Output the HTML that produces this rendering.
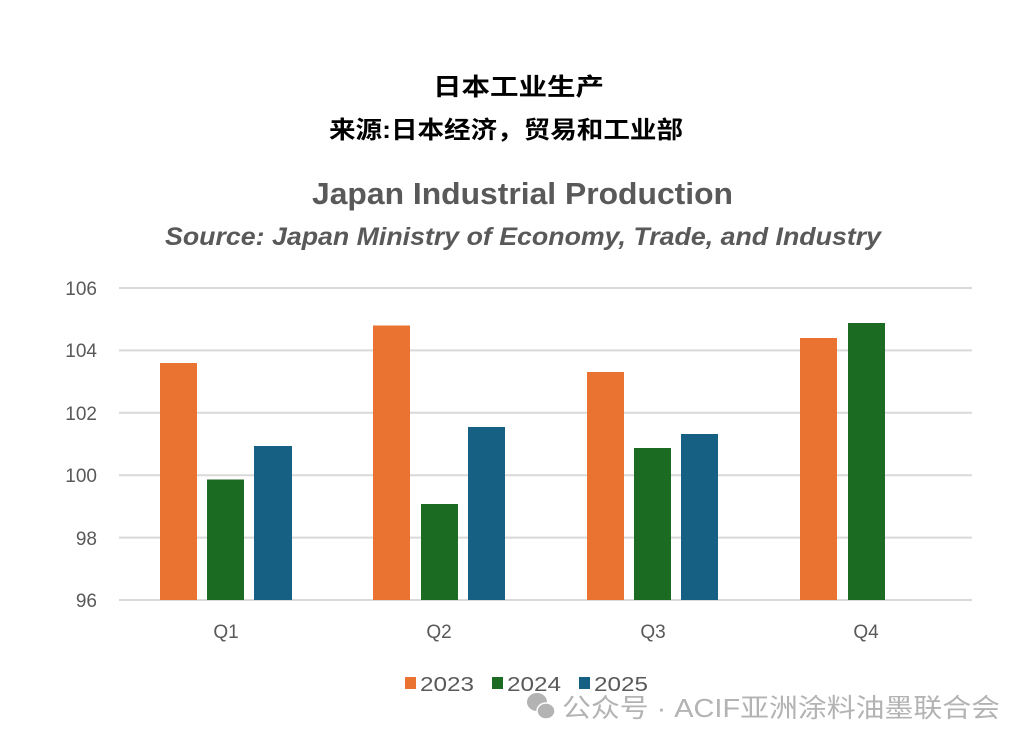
<!DOCTYPE html>
<html><head><meta charset="utf-8"><style>
body{margin:0;width:1034px;height:748px;background:#fff;overflow:hidden}
</style></head><body>
<svg width="1034" height="748" xmlns="http://www.w3.org/2000/svg" style="position:absolute;left:0;top:0">
<g font-family="'Liberation Sans','Noto Sans CJK SC',sans-serif">
<text x="433" y="95" font-size="24" font-weight="bold" fill="#000" textLength="171" lengthAdjust="spacingAndGlyphs">日本工业生产</text>
<text x="329" y="138" font-size="24" font-weight="bold" fill="#000" textLength="354" lengthAdjust="spacingAndGlyphs">来源:日本经济，贸易和工业部</text>
<text x="312" y="204" font-size="31" font-weight="bold" fill="#595959" textLength="421" lengthAdjust="spacingAndGlyphs">Japan Industrial Production</text>
<text x="165" y="245" font-size="25" font-weight="bold" font-style="italic" fill="#595959" textLength="716" lengthAdjust="spacingAndGlyphs">Source:  Japan Ministry of Economy, Trade, and Industry</text>
</g>
<g stroke="#d9d9d9" stroke-width="2">
<line x1="119" x2="972" y1="288" y2="288"/><line x1="119" x2="972" y1="350.4" y2="350.4"/>
<line x1="119" x2="972" y1="412.8" y2="412.8"/><line x1="119" x2="972" y1="475.2" y2="475.2"/>
<line x1="119" x2="972" y1="537.6" y2="537.6"/><line x1="119" x2="972" y1="600" y2="600"/>
</g>
<g font-family="'Liberation Sans',sans-serif" font-size="19" fill="#595959" text-anchor="end">
<text x="97" y="295">106</text><text x="97" y="357">104</text><text x="97" y="420">102</text>
<text x="97" y="482">100</text><text x="97" y="545">98</text><text x="97" y="607">96</text>
</g>
<g font-family="'Liberation Sans',sans-serif" font-size="19" fill="#595959" text-anchor="middle">
<text x="226" y="638">Q1</text><text x="439" y="638">Q2</text><text x="653" y="638">Q3</text><text x="866" y="638">Q4</text>
</g>
<g>
<rect x="160" y="363" width="37" height="237" fill="#EA7332"/>
<rect x="207" y="479.5" width="37" height="120.5" fill="#1B6B23"/>
<rect x="254" y="446" width="38" height="154" fill="#166083"/>
<rect x="373" y="325.5" width="37" height="274.5" fill="#EA7332"/>
<rect x="421" y="504" width="37" height="96" fill="#1B6B23"/>
<rect x="468" y="427" width="37" height="173" fill="#166083"/>
<rect x="587" y="372" width="37" height="228" fill="#EA7332"/>
<rect x="634" y="448" width="37" height="152" fill="#1B6B23"/>
<rect x="681" y="434" width="37" height="166" fill="#166083"/>
<rect x="800" y="338" width="37" height="262" fill="#EA7332"/>
<rect x="848" y="323" width="37" height="277" fill="#1B6B23"/>
</g>
<g font-family="'Liberation Sans',sans-serif" font-size="20" fill="#595959">
<rect x="405" y="677" width="11" height="12" fill="#EA7332"/><text x="420" y="691" textLength="54" lengthAdjust="spacingAndGlyphs">2023</text>
<rect x="492" y="677" width="11" height="12" fill="#1B6B23"/><text x="507" y="691" textLength="54" lengthAdjust="spacingAndGlyphs">2024</text>
<rect x="579" y="677" width="11" height="12" fill="#166083"/><text x="594" y="691" textLength="54" lengthAdjust="spacingAndGlyphs">2025</text>
</g>
<g fill="#b3b3b3">
<ellipse cx="537" cy="702" rx="10" ry="9"/>
<ellipse cx="546" cy="711" rx="9" ry="8" stroke="#fff" stroke-width="1.5"/>
</g>
<text x="562" y="717" font-family="'Liberation Sans','Noto Sans CJK SC',sans-serif" font-size="26" fill="#b3b3b3" textLength="438" lengthAdjust="spacingAndGlyphs">公众号 · ACIF亚洲涂料油墨联合会</text>
</svg>
</body></html>
